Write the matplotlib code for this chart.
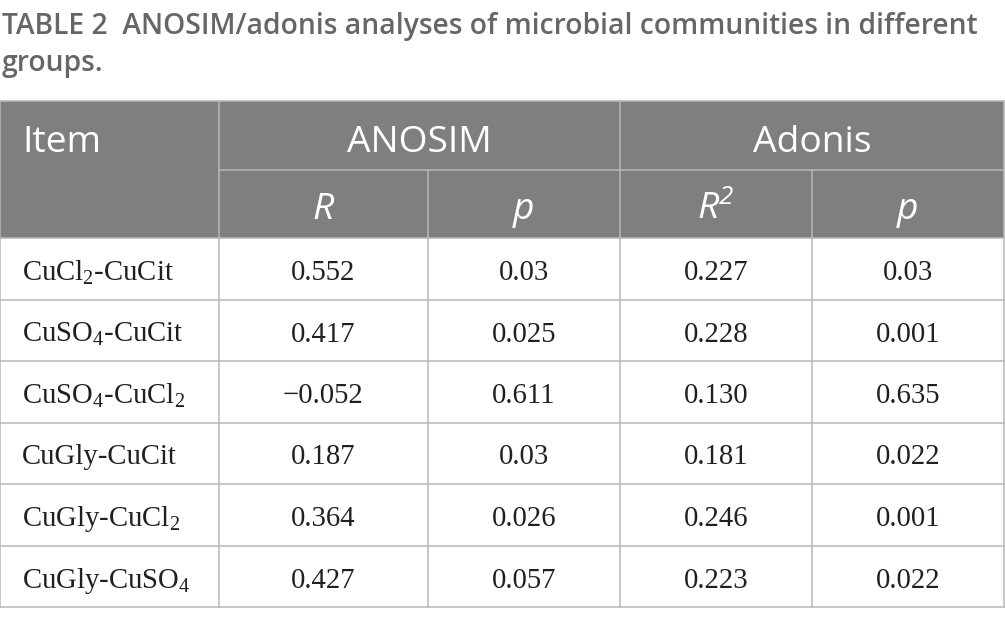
import matplotlib
matplotlib.use("Agg")
import matplotlib.pyplot as plt
from matplotlib.patches import Rectangle

title_line1 = "TABLE 2  ANOSIM/adonis analyses of microbial communities in different"
title_line2 = "groups."

items = ["CuCl$_\\mathregular{2}$-CuCit", "CuSO$_\\mathregular{4}$-CuCit",
         "CuSO$_\\mathregular{4}$-CuCl$_\\mathregular{2}$", "CuGly-CuCit",
         "CuGly-CuCl$_\\mathregular{2}$", "CuGly-CuSO$_\\mathregular{4}$"]
anosim_r = ["0.552", "0.417", "\u22120.052", "0.187", "0.364", "0.427"]
anosim_p = ["0.03", "0.025", "0.611", "0.03", "0.026", "0.057"]
adonis_r2 = ["0.227", "0.228", "0.130", "0.181", "0.246", "0.223"]
adonis_p = ["0.03", "0.001", "0.635", "0.022", "0.001", "0.022"]

W, H = 1005, 626
fig = plt.figure(figsize=(W / 100, H / 100), dpi=100)
ax = fig.add_axes([0, 0, 1, 1])
ax.set_xlim(0, W)
ax.set_ylim(H, 0)
ax.axis("off")

head_bg = "#7f7f7f"
line_c = "#b8b8b8"
title_c = "#666666"
text_c = "#231f20"
sans = "Open Sans"
serif = "Liberation Serif"

# column edges and row edges (pixels)
xs = [0, 219, 428, 620, 812, 1004]
top, h1, h2 = 101, 170, 238
row_h = 61.5
nrows = len(items)
ys = [h2 + i * row_h for i in range(nrows + 1)]

# title
ax.text(2, 34, title_line1, fontsize=20.3, color=title_c, family=sans,
        fontweight="semibold", va="baseline", ha="left")
ax.text(2, 71, title_line2, fontsize=20.3, color=title_c, family=sans,
        fontweight="semibold", va="baseline", ha="left")

# header background
ax.add_patch(Rectangle((0, top), xs[-1], h2 - top, facecolor=head_bg,
                       edgecolor="none"))

lw = 1.1
# horizontal lines
ax.plot([0, xs[-1]], [top, top], color=line_c, lw=lw)
ax.plot([xs[1], xs[-1]], [h1, h1], color=line_c, lw=lw)
for y in ys:
    ax.plot([0, xs[-1]], [y, y], color=line_c, lw=lw)
# vertical lines
for x in [0, xs[-1]]:
    ax.plot([x, x], [top, ys[-1]], color=line_c, lw=lw)
ax.plot([xs[1], xs[1]], [top, ys[-1]], color=line_c, lw=lw)
ax.plot([xs[3], xs[3]], [top, ys[-1]], color=line_c, lw=lw)
ax.plot([xs[2], xs[2]], [h1, ys[-1]], color=line_c, lw=lw)
ax.plot([xs[4], xs[4]], [h1, ys[-1]], color=line_c, lw=lw)

# header text
hfs = 26.8
ax.text(22, 152, "Item", fontsize=hfs, color="white", family=sans,
        va="baseline", ha="left")
ax.text((xs[1] + xs[3]) / 2, 152, "ANOSIM", fontsize=hfs,
        color="white", family=sans, va="baseline", ha="center")
ax.text((xs[3] + xs[5]) / 2, 152, "Adonis", fontsize=hfs,
        color="white", family=sans, va="baseline", ha="center")
subs = ["R", "p", "$\\mathregular{R^2}$", "p"]
for i, s in enumerate(subs):
    ax.text((xs[i + 1] + xs[i + 2]) / 2, 219, s, fontsize=hfs,
            color="white", family=sans, style="italic", va="baseline",
            ha="center")

# body
dfs = 20.7
cols = [anosim_r, anosim_p, adonis_r2, adonis_p]
for r in range(nrows):
    yb = ys[r] + 42
    ax.text(22, yb, items[r], fontsize=dfs, color=text_c, family=serif,
            va="baseline", ha="left")
    for c, vals in enumerate(cols):
        ax.text((xs[c + 1] + xs[c + 2]) / 2, yb, vals[r], fontsize=dfs,
                color=text_c, family=serif, va="baseline", ha="center")

fig.savefig("out.png", dpi=100)
